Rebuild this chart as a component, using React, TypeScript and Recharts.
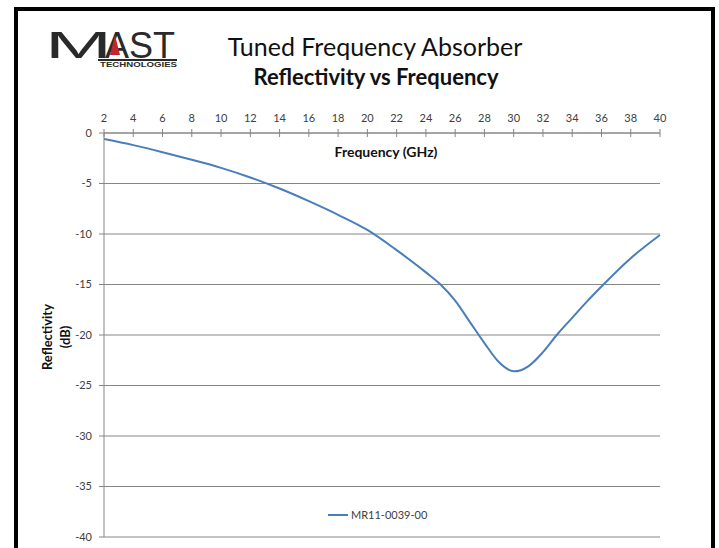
import { LineChart, Line, XAxis, YAxis, CartesianGrid, Legend } from "recharts";

const frequencies = [2, 4, 6, 8, 10, 12, 14, 16, 18, 20, 22, 24, 25, 26, 27, 28, 29, 30, 31, 32, 33, 34, 35, 36, 38, 40];
const reflectivity = [
  -0.6, -1.2, -1.9, -2.65, -3.45, -4.4, -5.5, -6.75, -8.1, -9.6, -11.6, -13.8, -15, -16.6, -18.7, -20.8, -22.7, -23.6,
  -23.1, -21.7, -19.9, -18.3, -16.7, -15.2, -12.4, -10.1,
];
const xTicks = [2, 4, 6, 8, 10, 12, 14, 16, 18, 20, 22, 24, 26, 28, 30, 32, 34, 36, 38, 40];
const yTicks = [0, -5, -10, -15, -20, -25, -30, -35, -40];
const seriesName = "MR11-0039-00";

const data = frequencies.map((f, i) => ({ freq: f, value: reflectivity[i] }));

const FONT = "Lato, 'Open Sans', sans-serif";
const LOGO_FONT = "'Liberation Sans', Arial, sans-serif";
const AXIS_GREY = "#868686";
const LINE_BLUE = "#4a7ebb";

// top axis ticks cross the axis line like excel's
function TopTick(props: any) {
  const { x, y, payload } = props;
  return (
    <g>
      <line x1={x} x2={x} y1={y + 6} y2={y + 14} stroke={AXIS_GREY} />
      <text x={x} y={y - 1} textAnchor="middle" fontSize={11} fill="#404040" fontFamily={FONT}>
        {payload.value}
      </text>
    </g>
  );
}

function LegendContent() {
  return (
    <div style={{ display: "flex", alignItems: "center", fontFamily: FONT, fontSize: 11, color: "#404040" }}>
      <span style={{ display: "inline-block", width: 20, height: 2, background: LINE_BLUE, marginRight: 3 }} />
      {seriesName}
    </div>
  );
}

function Logo() {
  return (
    <svg width={150} height={50} style={{ position: "absolute", left: 40, top: 26 }}>
      <text x={5} y={32} fontSize={36} fontFamily={LOGO_FONT} fill="#2a2a2a" textLength={67} lengthAdjust="spacingAndGlyphs">
        M
      </text>
      <text x={65} y={32} fontSize={36} fontFamily={LOGO_FONT} fill="#2a2a2a" textLength={70} lengthAdjust="spacingAndGlyphs">
        AST
      </text>
      <polygon points="75,9 80,29 70,29" fill="#c0282d" />
      <rect x={58} y={33} width={79} height={2} fill="#2a2a2a" />
      <text
        x={60}
        y={41}
        fontSize={7}
        fontWeight="bold"
        fontFamily={LOGO_FONT}
        fill="#2a2a2a"
        textLength={77}
        lengthAdjust="spacingAndGlyphs"
      >
        TECHNOLOGIES
      </text>
    </svg>
  );
}

export default function App() {
  return (
    <div style={{ position: "absolute", left: 0, top: 0, width: 719, height: 548, background: "#fff", overflow: "hidden" }}>
      <div
        style={{
          position: "absolute",
          left: 14,
          top: 7,
          width: 693,
          height: 560,
          border: "4px solid #000",
          boxSizing: "content-box",
        }}
      />
      <Logo />
      <div
        style={{
          position: "absolute",
          left: 0,
          width: 750,
          top: 31,
          textAlign: "center",
          fontFamily: FONT,
          fontSize: 25,
          color: "#111",
          lineHeight: "30px",
        }}
      >
        Tuned Frequency Absorber
      </div>
      <div
        style={{
          position: "absolute",
          left: 0,
          width: 752,
          top: 63,
          textAlign: "center",
          fontFamily: FONT,
          fontSize: 22,
          fontWeight: "bold",
          color: "#111",
          lineHeight: "28px",
        }}
      >
        Reflectivity vs Frequency
      </div>
      <div
        style={{
          position: "absolute",
          left: 286,
          width: 200,
          top: 143,
          textAlign: "center",
          fontFamily: FONT,
          fontSize: 14,
          fontWeight: "bold",
          color: "#111",
          lineHeight: "18px",
        }}
      >
        Frequency (GHz)
      </div>
      <div
        style={{
          position: "absolute",
          left: 56 - 50,
          top: 337 - 18,
          width: 100,
          textAlign: "center",
          fontFamily: FONT,
          fontSize: 13,
          fontWeight: "bold",
          color: "#111",
          lineHeight: "18px",
          transform: "rotate(-90deg)",
        }}
      >
        Reflectivity
        <br />
        (dB)
      </div>
      <div style={{ position: "absolute", left: 0, top: 0 }}>
        <LineChart width={719} height={548} data={data} margin={{ top: 100, right: 59, bottom: 11, left: 60 }}>
          <CartesianGrid vertical={false} stroke={AXIS_GREY} />
          <XAxis
            dataKey="freq"
            type="number"
            orientation="top"
            domain={[2, 40]}
            ticks={xTicks}
            height={33}
            tickSize={4}
            tickMargin={6}
            tickLine={false}
            tick={<TopTick />}
            stroke={AXIS_GREY}
            interval={0}
          />
          <YAxis
            type="number"
            domain={[-40, 0]}
            ticks={yTicks}
            width={44}
            tickSize={5}
            tickMargin={7}
            stroke={AXIS_GREY}
            interval={0}
            tick={{ fontSize: 11, fill: "#404040", fontFamily: FONT }}
          />
          <Line
            type="monotone"
            dataKey="value"
            name={seriesName}
            stroke={LINE_BLUE}
            strokeWidth={2}
            dot={false}
            isAnimationActive={false}
          />
          <Legend
            layout="horizontal"
            verticalAlign="middle"
            align="center"
            content={<LegendContent />}
            wrapperStyle={{ left: 328, top: 508, width: 120, height: 16 }}
          />
        </LineChart>
      </div>
    </div>
  );
}
